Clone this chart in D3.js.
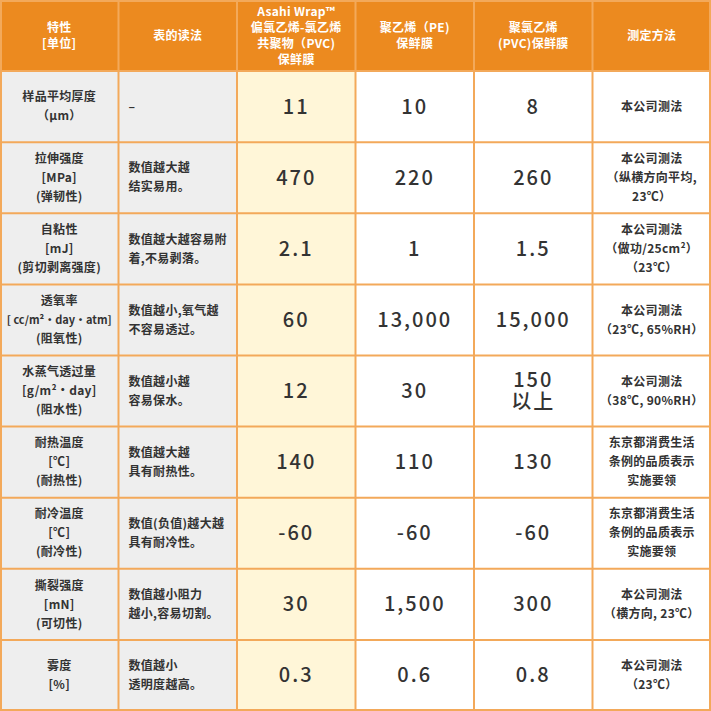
<!DOCTYPE html>
<html><head><meta charset="utf-8">
<script src="https://cdn.jsdelivr.net/npm/d3@7"></script>
<style>body{margin:0;background:#fff}svg{display:block}</style>
</head><body>
<svg id="c" width="711" height="711"></svg>
<script>
const headers = ["特性\n[单位]", "表的读法", "Asahi Wrap™\n偏氯乙烯-氯乙烯\n共聚物（PVC)\n保鲜膜", "聚乙烯（PE)\n保鲜膜", "聚氯乙烯\n(PVC)保鲜膜", "测定方法"];
const properties = ["样品平均厚度\n（μm）", "拉伸强度\n[MPa]\n(弹韧性)", "自粘性\n[mJ]\n(剪切剥离强度)", "透氧率\n[ cc/m²・day・atm]\n(阻氧性)", "水蒸气透过量\n[g/m²・day]\n(阻水性)", "耐热温度\n[℃]\n(耐热性)", "耐冷温度\n[℃]\n(耐冷性)", "撕裂强度\n[mN]\n(可切性)", "雾度\n[%]"];
const readings = ["–", "数值越大越\n结实易用。", "数值越大越容易附\n着,不易剥落。", "数值越小,氧气越\n不容易透过。", "数值越小越\n容易保水。", "数值越大越\n具有耐热性。", "数值(负值)越大越\n具有耐冷性。", "数值越小阻力\n越小,容易切割。", "数值越小\n透明度越高。"];
const wrapValues = ["11", "470", "2.1", "60", "12", "140", "-60", "30", "0.3"];
const peValues = ["10", "220", "1", "13,000", "30", "110", "-60", "1,500", "0.6"];
const pvcValues = ["8", "260", "1.5", "15,000", "150\n以上", "130", "-60", "300", "0.8"];
const methods = ["本公司测法", "本公司测法\n（纵横方向平均,\n23℃）", "本公司测法\n（做功/25cm²）\n（23℃）", "本公司测法\n（23℃, 65%RH）", "本公司测法\n（38℃, 90%RH）", "东京都消费生活\n条例的品质表示\n实施要领", "东京都消费生活\n条例的品质表示\n实施要领", "本公司测法\n（横方向, 23℃）", "本公司测法\n（23℃）"];

const svg = d3.select("#c");
const W = 711, H = 711;
const x = d3.scaleBand().domain(d3.range(6)).range([0, W]);
const y = d3.scaleBand().domain(d3.range(10)).range([0, H]);
const font = "'Noto Sans CJK SC', 'Noto Sans', sans-serif";
const rows = properties.map((p, i) => [p, readings[i], wrapValues[i], peValues[i], pvcValues[i], methods[i]]);
const bgFor = (r, c) => r === 0 ? "#EC8A1F" : (c < 2 ? "#EEEEEE" : c === 2 ? "#FFF6D8" : "#FFFFFF");

const cells = [];
headers.forEach((h, c) => cells.push({r: 0, c, t: h}));
rows.forEach((row, i) => row.forEach((t, c) => cells.push({r: i + 1, c, t})));

const g = svg.selectAll("g.cell").data(cells).join("g").attr("class", "cell");
g.append("rect").attr("x", d => x(d.c)).attr("y", d => y(d.r))
  .attr("width", x.bandwidth()).attr("height", y.bandwidth())
  .attr("fill", d => bgFor(d.r, d.c));

g.each(function(d) {
  const lines = d.t.split("\n");
  const isVal = d.r > 0 && d.c >= 2 && d.c <= 4;
  const isRead = d.r > 0 && d.c === 1;
  const fs = isVal ? 20 : 12;
  const lh = isVal ? 22 : (d.r === 0 ? 16 : 19);
  const cx = isRead ? x(d.c) + 10 : x(d.c) + x.bandwidth() / 2;
  const cy = y(d.r) + y.bandwidth() / 2;
  const t = d3.select(this).append("text")
    .attr("font-family", font).attr("font-size", fs)
    .attr("font-weight", isVal ? 500 : "bold")
    .attr("fill", d.r === 0 ? "#fff" : "#333")
    .attr("letter-spacing", isVal ? 2 : 0.3)
    .attr("text-anchor", isRead ? "start" : "middle");
  lines.forEach((l, i) => {
    const tsp = t.append("tspan").attr("x", cx)
      .attr("y", cy + (i - (lines.length - 1) / 2) * lh)
      .attr("dy", "0.35em").text(l);
    if (l.length > 14 && d.c === 0) tsp.attr("font-size", 11).attr("letter-spacing", 0);
  });
});

// grid lines
svg.selectAll("line.v").data(d3.range(1, 6)).join("line")
  .attr("x1", d => x(d)).attr("x2", d => x(d)).attr("y1", 0).attr("y2", H)
  .attr("stroke", "#F3A95A").attr("stroke-width", 2);
svg.selectAll("line.h").data(d3.range(1, 10)).join("line")
  .attr("y1", d => y(d)).attr("y2", d => y(d)).attr("x1", 0).attr("x2", W)
  .attr("stroke", "#F3A95A").attr("stroke-width", 2);
svg.append("rect").attr("x", 1).attr("y", 1).attr("width", W - 2).attr("height", H - 2)
  .attr("fill", "none").attr("stroke", "#F3A95A").attr("stroke-width", 2);
</script>
</body></html>
